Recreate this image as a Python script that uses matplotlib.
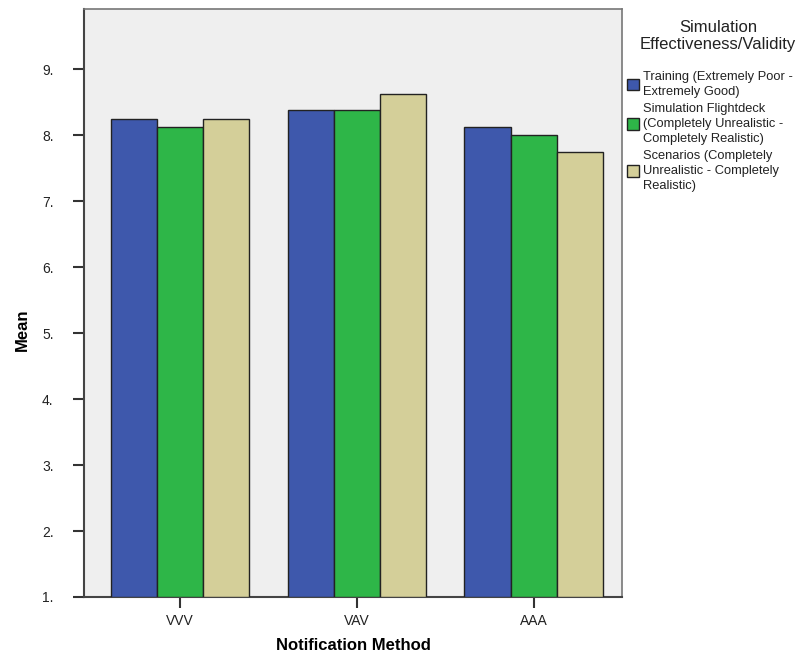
import matplotlib
matplotlib.use("Agg")
import matplotlib.pyplot as plt
import numpy as np
from matplotlib.patches import Patch

plt.rcParams['font.family'] = ['Liberation Sans', 'DejaVu Sans']

categories = ["VVV", "VAV", "AAA"]
series_names = [
    "Training (Extremely Poor -\nExtremely Good)",
    "Simulation Flightdeck\n(Completely Unrealistic -\nCompletely Realistic)",
    "Scenarios (Completely\nUnrealistic - Completely\nRealistic)",
]
training = [8.25, 8.375, 8.125]
flightdeck = [8.125, 8.375, 8.0]
scenarios = [8.25, 8.625, 7.75]
colors = ["#3e58ac", "#2eb648", "#d4cf99"]
yticks = [1, 2, 3, 4, 5, 6, 7, 8, 9]
ytick_labels = ["1.", "2.", "3.", "4.", "5.", "6.", "7.", "8.", "9."]

W, H = 808, 654
fig = plt.figure(figsize=(W/100, H/100), dpi=100)
ax = fig.add_axes([84/W, 1-597/H, (622-84)/W, (597-9)/H])
ax.set_facecolor("#efefef")

x = np.arange(len(categories))
w = 0.26
base = 1.0
for i, (vals, c) in enumerate(zip([training, flightdeck, scenarios], colors)):
    ax.bar(x + (i - 1) * w, np.array(vals) - base, width=w, bottom=base, color=c,
           edgecolor="#222222", linewidth=1.0, zorder=3)

ax.set_xlim(-0.54, 2.50)
ax.set_ylim(1, 9.91)
ax.set_xticks(x)
ax.set_xticklabels(categories, fontsize=10, color="#222222")
ax.set_yticks(yticks)
ax.set_yticklabels(ytick_labels, fontsize=10, color="#222222")
ax.tick_params(axis='y', length=8, width=1.5, color="#333333", pad=14)
ax.tick_params(axis='x', length=8, width=1.5, color="#333333", pad=4)
for s in ["top", "right"]:
    ax.spines[s].set_color("#777777")
    ax.spines[s].set_linewidth(1.2)
ax.spines["left"].set_color("#444444")
ax.spines["bottom"].set_color("#444444")
ax.spines["left"].set_linewidth(1.5)
ax.spines["bottom"].set_linewidth(1.5)

ax.set_xlabel("Notification Method", fontsize=12, fontweight="bold")
ax.set_ylabel("Mean", fontsize=12, fontweight="bold")
ax.xaxis.set_label_coords((353-84)/(622-84), -(645-597)/(597-9))
ax.xaxis.label.set_va("center")
ax.yaxis.set_label_coords(-(84-22)/(622-84), (597-330)/(597-9))
ax.yaxis.label.set_va("center")

fig.text(718/W, 1-36/H, "Simulation\nEffectiveness/Validity", ha="center", va="center",
         fontsize=12, color="#222222", linespacing=1.15)

handles = [Patch(facecolor=c, edgecolor="#222222", linewidth=1.0) for c in colors]
leg = fig.legend(handles, series_names, loc="upper left", bbox_to_anchor=(618/W, 1-62/H),
                 frameon=False, fontsize=9.3, handlelength=0.9, handleheight=1.0,
                 handletextpad=0.35, labelspacing=0.4, borderpad=0.2)
for t in leg.get_texts():
    t.set_linespacing(1.32)
    t.set_color("#222222")

fig.savefig("out.png", dpi=100)
